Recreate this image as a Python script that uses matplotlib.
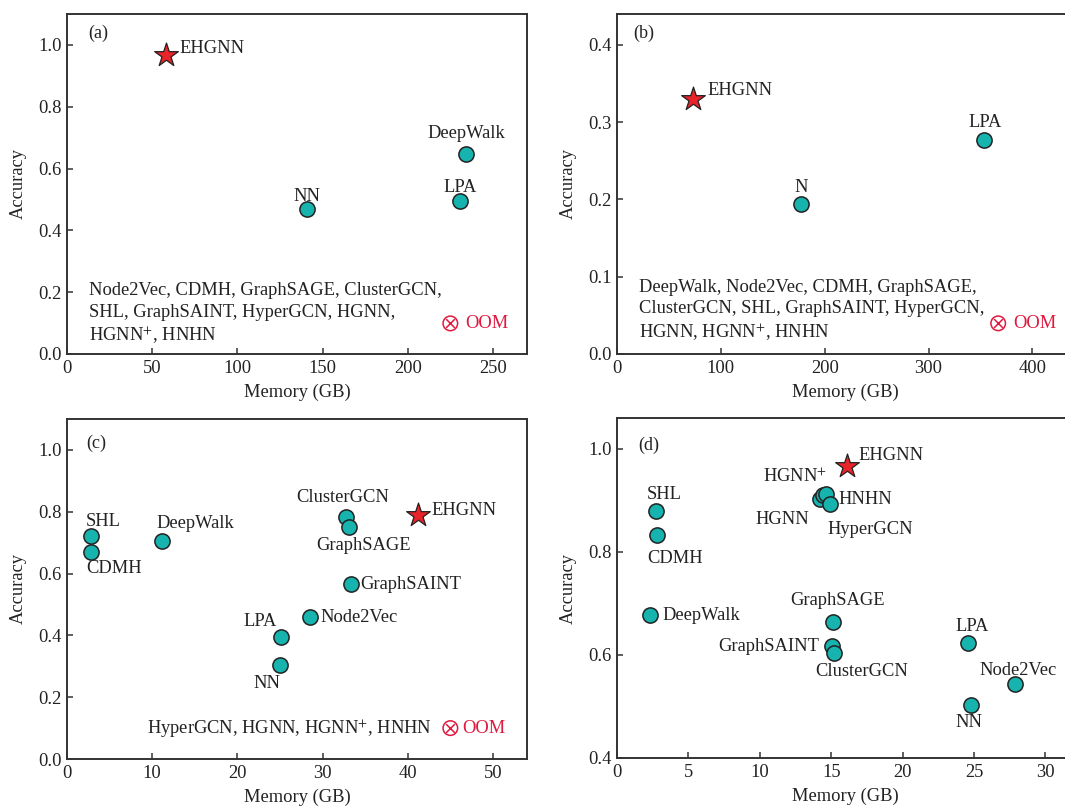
import matplotlib
matplotlib.use("Agg")
import matplotlib.pyplot as plt

plt.rcParams['font.family'] = ['Liberation Serif', 'DejaVu Serif']
plt.rcParams['mathtext.fontset'] = 'stix'
plt.rcParams['font.size'] = 13.3

TEAL = '#17B3AF'
RED = '#E8232A'
OOMC = '#E0193F'
EDGE = '#222222'

# ---------------- data ----------------
# panel (a)
a_names = ['DeepWalk', 'LPA', 'NN']
a_mem = [234.1, 230.9, 141.1]
a_acc = [0.647, 0.494, 0.469]
a_ehgnn = (58.1, 0.967)
a_oom = "Node2Vec, CDMH, GraphSAGE, ClusterGCN,\nSHL, GraphSAINT, HyperGCN, HGNN,\nHGNN$^{+}$, HNHN"

# panel (b)
b_names = ['LPA', 'N']
b_mem = [352.9, 177.4]
b_acc = [0.2767, 0.194]
b_ehgnn = (73.2, 0.3306)
b_oom = "DeepWalk, Node2Vec, CDMH, GraphSAGE,\nClusterGCN, SHL, GraphSAINT, HyperGCN,\nHGNN, HGNN$^{+}$, HNHN"

# panel (c)
c_names = ['SHL', 'CDMH', 'DeepWalk', 'ClusterGCN', 'GraphSAGE',
           'GraphSAINT', 'Node2Vec', 'LPA', 'NN']
c_mem = [2.85, 2.85, 11.1, 32.8, 33.1, 33.3, 28.5, 25.1, 24.96]
c_acc = [0.720, 0.669, 0.706, 0.784, 0.751, 0.566, 0.459, 0.394, 0.305]
c_ehgnn = (41.2, 0.790)
c_oom = "HyperGCN, HGNN, HGNN$^{+}$, HNHN"

# panel (d)
d_names = ['SHL', 'CDMH', 'DeepWalk', 'HGNN', 'HGNN$^{+}$', 'HNHN', 'HyperGCN',
           'GraphSAGE', 'GraphSAINT', 'ClusterGCN', 'LPA', 'Node2Vec', 'NN']
d_mem = [2.70, 2.79, 2.30, 14.22, 14.40, 14.60, 14.92,
         15.09, 15.02, 15.21, 24.56, 27.89, 24.79]
d_acc = [0.879, 0.832, 0.677, 0.9026, 0.910, 0.912, 0.893,
         0.6645, 0.617, 0.604, 0.624, 0.543, 0.503]
d_ehgnn = (16.08, 0.966)

# ---------------- layout (label offsets in pixels: dx, dy, ha) ----------------
a_off = [(0, 21, 'center'), (0, 14, 'center'), (0, 13, 'center')]
b_off = [(2, 18, 'center'), (0, 17, 'center')]
c_off = [(-5.5, 15, 'left'), (-5.5, -16, 'left'), (-5, 17, 'left'),
         (-4, 19, 'center'), (15, -18.7, 'center'), (9.3, 0, 'left'),
         (11, 0, 'left'), (-4, 15.7, 'right'), (-12.5, -19, 'center')]
d_off = [(-8.4, 17, 'left'), (-9.7, -23, 'left'), (13, 0, 'left'),
         (-11, -20, 'right'), (4, 18, 'right'), (13, -5, 'left'), (-2.7, -25, 'left'),
         (5.4, 21, 'center'), (-12.7, 0, 'right'), (27, -19, 'center'),
         (4, 16, 'center'), (2.7, 14, 'center'), (-1.7, -18, 'center')]

PX = 72.0 / 100.0  # points per pixel at dpi 100

fig = plt.figure(figsize=(10.65, 8.11), dpi=100)
W, H = 1065.0, 811.0


def make_ax(l, t, w, h):
    return fig.add_axes([l / W, 1 - (t + h) / H, w / W, h / H])


axes = {
    'a': make_ax(67, 14, 460, 340),
    'b': make_ax(617, 14, 457, 340),
    'c': make_ax(67, 419, 460, 340),
    'd': make_ax(617, 418, 457, 340),
}


def style(ax, xlim, ylim, xticks, yticks, yfmt, letter, lpos):
    ax.set_xlim(*xlim)
    ax.set_ylim(*ylim)
    ax.set_xticks(xticks)
    ax.set_yticks(yticks)
    ax.set_yticklabels([yfmt.format(v) for v in yticks])
    ax.tick_params(direction='in', length=4, width=1.1, color='#333333',
                   labelsize=13.3, pad=4, labelcolor='#222222')
    for s in ax.spines.values():
        s.set_linewidth(1.4)
        s.set_color('#333333')
    ax.set_xlabel('Memory (GB)', fontsize=13.3, labelpad=5, color='#222222')
    ax.set_ylabel('Accuracy', fontsize=13.3, labelpad=8, color='#222222')
    ax.text(lpos[0], lpos[1], letter, transform=ax.transAxes, fontsize=13,
            ha='left', va='center', color='#222222')


def scatter(ax, xs, ys, names, offs):
    ax.scatter(xs, ys, s=120, c=TEAL, edgecolors=EDGE, linewidths=1.1, zorder=3)
    for x, y, n, (dx, dy, ha) in zip(xs, ys, names, offs):
        ax.annotate(n, (x, y), xytext=(dx * PX, dy * PX), textcoords='offset points',
                    ha=ha, va='center', fontsize=13.3, color='#222222')


def star(ax, pt, off):
    ax.scatter([pt[0]], [pt[1]], marker='*', s=320, c=RED, edgecolors=EDGE,
               linewidths=0.9, zorder=4)
    ax.annotate('EHGNN', pt, xytext=(off[0] * PX, off[1] * PX),
                textcoords='offset points', ha='left', va='center',
                fontsize=13.3, color='#222222')


def oom(ax, x, y, xt):
    ax.scatter([x], [y], s=110, facecolors='none', edgecolors=OOMC, linewidths=1.1, zorder=3)
    ax.scatter([x], [y], marker='x', s=40, c=OOMC, linewidths=1.1, zorder=3)
    ax.text(xt, y, 'OOM', color=OOMC, ha='left', va='center', fontsize=13.3)


# (a)
ax = axes['a']
style(ax, (0, 270), (0, 1.1), [0, 50, 100, 150, 200, 250],
      [0.0, 0.2, 0.4, 0.6, 0.8, 1.0], '{:.1f}', '(a)', (0.047, 0.943))
scatter(ax, a_mem, a_acc, a_names, a_off)
star(ax, a_ehgnn, (13, 7))
ax.text(13.0, 0.127, a_oom, ha='left', va='center', fontsize=13.3,
        color='#222222', linespacing=1.33)
oom(ax, 225, 0.099, 234.0)

# (b)
ax = axes['b']
style(ax, (0, 440), (0, 0.44), [0, 100, 200, 300, 400],
      [0.0, 0.1, 0.2, 0.3, 0.4], '{:.1f}', '(b)', (0.035, 0.943))
scatter(ax, b_mem, b_acc, b_names, b_off)
star(ax, b_ehgnn, (14, 8))
ax.text(21.0, 0.0552, b_oom, ha='left', va='center', fontsize=13.3,
        color='#222222', linespacing=1.33)
oom(ax, 367, 0.0397, 381.5)

# (c)
ax = axes['c']
style(ax, (0, 54), (0, 1.1), [0, 10, 20, 30, 40, 50],
      [0.0, 0.2, 0.4, 0.6, 0.8, 1.0], '{:.1f}', '(c)', (0.041, 0.928))
scatter(ax, c_mem, c_acc, c_names, c_off)
star(ax, c_ehgnn, (13.8, 4))
ax.text(9.43, 0.095, c_oom, ha='left', va='center', fontsize=13.3, color='#222222')
oom(ax, 45.0, 0.100, 46.4)

# (d)
ax = axes['d']
style(ax, (0, 32), (0.4, 1.06), [0, 5, 10, 15, 20, 25, 30],
      [0.4, 0.6, 0.8, 1.0], '{:.1f}', '(d)', (0.046, 0.92))
scatter(ax, d_mem, d_acc, d_names, d_off)
star(ax, d_ehgnn, (11.4, 10.7))

fig.savefig('out.png', dpi=100)
